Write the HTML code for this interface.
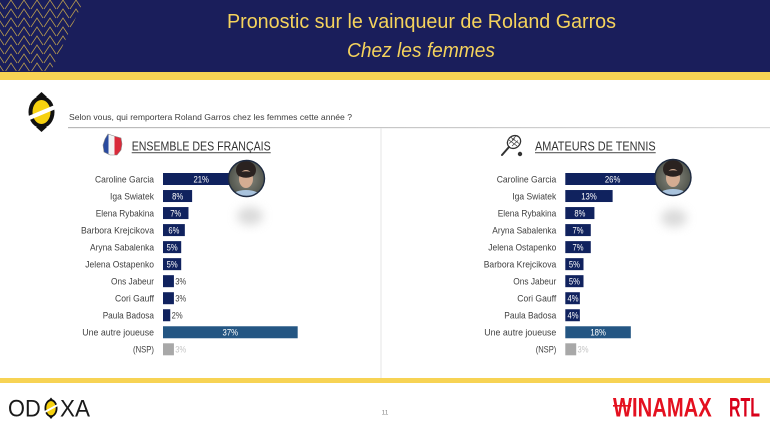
<!DOCTYPE html>
<html><head><meta charset="utf-8"><style>
html,body{margin:0;padding:0;background:#fff;}
svg{display:block;}
text{font-family:"Liberation Sans",sans-serif;}
</style></head><body>
<svg width="770" height="431" viewBox="0 0 770 431" xmlns="http://www.w3.org/2000/svg">
<defs>
<clipPath id="wedge"><polygon points="0,0 84,0 51,71 0,71"/></clipPath>
<clipPath id="c1"><circle cx="246.5" cy="178.5" r="18"/></clipPath>
<clipPath id="c2"><circle cx="673" cy="177.5" r="18"/></clipPath>
<filter id="blur" x="-50%" y="-50%" width="200%" height="200%"><feGaussianBlur stdDeviation="5"/></filter>
<radialGradient id="bg"><stop offset="0" stop-color="#8a8a80"/><stop offset="1" stop-color="#4e524a"/></radialGradient>
<linearGradient id="ln" x1="0" y1="0" x2="1" y2="0"><stop offset="0" stop-color="#b8b8b8"/><stop offset="1" stop-color="#d8d8d8"/></linearGradient>
</defs>

<!-- header -->
<rect x="0" y="0" width="770" height="72" fill="#1a1e5b"/>
<g clip-path="url(#wedge)" stroke="#c8a84e" stroke-width="0.8" fill="none" opacity="0.9">
<path d="M-8,9 L-2,0 L4,9 M-8,18 L-2,9 L4,18 M-8,27 L-2,18 L4,27 M-8,36 L-2,27 L4,36 M-8,45 L-2,36 L4,45 M-8,54 L-2,45 L4,54 M-8,63 L-2,54 L4,63 M-8,72 L-2,63 L4,72"/>
<path d="M5,9 L11,0 L17,9 M5,18 L11,9 L17,18 M5,27 L11,18 L17,27 M5,36 L11,27 L17,36 M5,45 L11,36 L17,45 M5,54 L11,45 L17,54 M5,63 L11,54 L17,63 M5,72 L11,63 L17,72"/>
<path d="M18,9 L24,0 L30,9 M18,18 L24,9 L30,18 M18,27 L24,18 L30,27 M18,36 L24,27 L30,36 M18,45 L24,36 L30,45 M18,54 L24,45 L30,54 M18,63 L24,54 L30,63 M18,72 L24,63 L30,72"/>
<path d="M31,9 L37,0 L43,9 M31,18 L37,9 L43,18 M31,27 L37,18 L43,27 M31,36 L37,27 L43,36 M31,45 L37,36 L43,45 M31,54 L37,45 L43,54 M31,63 L37,54 L43,63 M31,72 L37,63 L43,72"/>
<path d="M44,9 L50,0 L56,9 M44,18 L50,9 L56,18 M44,27 L50,18 L56,27 M44,36 L50,27 L56,36 M44,45 L50,36 L56,45 M44,54 L50,45 L56,54 M44,63 L50,54 L56,63 M44,72 L50,63 L56,72"/>
<path d="M57,9 L63,0 L69,9 M57,18 L63,9 L69,18 M57,27 L63,18 L69,27 M57,36 L63,27 L69,36 M57,45 L63,36 L69,45 M57,54 L63,45 L69,54"/>
<path d="M70,9 L76,0 L82,9 M70,18 L76,9 L82,18 M70,27 L76,18 L82,27"/>
</g>
<text x="227" y="28" font-size="20" fill="#f5d35c" textLength="389" lengthAdjust="spacingAndGlyphs">Pronostic sur le vainqueur de Roland Garros</text>
<text x="347" y="57" font-size="20" font-style="italic" fill="#f5d35c" textLength="148" lengthAdjust="spacingAndGlyphs">Chez les femmes</text>
<rect x="0" y="72" width="770" height="8" fill="#f7d354"/>

<!-- question logo -->
<g>
<polygon points="36,97 41.5,92 47,97" fill="#111"/>
<polygon points="36,127 41.5,132 47,127" fill="#111"/>
<ellipse cx="41.5" cy="112" rx="13" ry="16" fill="#111"/>
<ellipse cx="41.5" cy="112" rx="9" ry="12" fill="#f6d10f"/>
<polygon points="26,117 57,104 57,108.5 26,121.5" fill="#fff"/>
</g>
<text x="69" y="120" font-size="8.5" fill="#404040" textLength="283" lengthAdjust="spacingAndGlyphs">Selon vous, qui remportera Roland Garros chez les femmes cette année ?</text>
<rect x="68" y="127" width="702" height="1.2" fill="url(#ln)"/>
<rect x="380.5" y="128" width="1" height="250" fill="#e6e6e6"/>

<!-- Left heading: flag -->
<g>
<clipPath id="fr"><polygon points="108,134 114,136 121,138 122,144 121,150 117,155 110,155 104,152 103,145 105,139"/></clipPath>
<g clip-path="url(#fr)">
<rect x="100" y="132" width="8.5" height="26" fill="#2a4a9e"/>
<rect x="108.5" y="132" width="6" height="26" fill="#f4f4f4"/>
<rect x="114.5" y="132" width="10" height="26" fill="#d92a3a"/>
</g>
<polygon points="108,134 114,136 121,138 122,144 121,150 117,155 110,155 104,152 103,145 105,139" fill="none" stroke="#888" stroke-width="0.6"/>
</g>
<text x="131.7" y="150.7" font-size="12.5" fill="#333" textLength="139" lengthAdjust="spacingAndGlyphs">ENSEMBLE DES FRANÇAIS</text>
<rect x="131.7" y="152.3" width="139" height="0.9" fill="#333"/>

<!-- Right heading: racket -->
<g stroke="#333" fill="none">
<ellipse cx="514" cy="142" rx="7" ry="6" transform="rotate(-40 514 142)" stroke-width="1.3"/>
<path d="M509,140 L517,146 M511,137.5 L519,143.5 M512,140 L516,136 M509,143.5 L515,138.5 M512,146 L518,140.5" stroke-width="0.6"/>
<line x1="509" y1="147" x2="502" y2="155" stroke-width="2" stroke-linecap="round"/>
<circle cx="520" cy="154" r="2.2" fill="#333" stroke="none"/>
</g>
<text x="535" y="150.7" font-size="12.5" fill="#333" textLength="120.7" lengthAdjust="spacingAndGlyphs">AMATEURS DE TENNIS</text>
<rect x="535" y="152.3" width="120.7" height="0.9" fill="#333"/>

<!-- shadows -->
<ellipse cx="250" cy="216" rx="13" ry="9" fill="#d0d0d0" filter="url(#blur)" opacity="0.8"/>
<ellipse cx="674" cy="218" rx="13" ry="9" fill="#d0d0d0" filter="url(#blur)" opacity="0.8"/>

<!-- LEFT labels -->
<g font-size="9.5" fill="#404040" text-anchor="end">
<text x="154" y="182.4" textLength="59" lengthAdjust="spacingAndGlyphs">Caroline Garcia</text>
<text x="154" y="199.4" textLength="44" lengthAdjust="spacingAndGlyphs">Iga Swiatek</text>
<text x="154" y="216.4" textLength="58.3" lengthAdjust="spacingAndGlyphs">Elena Rybakina</text>
<text x="154" y="233.5" textLength="73" lengthAdjust="spacingAndGlyphs">Barbora Krejcikova</text>
<text x="154" y="250.5" textLength="64" lengthAdjust="spacingAndGlyphs">Aryna Sabalenka</text>
<text x="154" y="267.5" textLength="68.7" lengthAdjust="spacingAndGlyphs">Jelena Ostapenko</text>
<text x="154" y="284.6" textLength="43" lengthAdjust="spacingAndGlyphs">Ons Jabeur</text>
<text x="154" y="301.6" textLength="39" lengthAdjust="spacingAndGlyphs">Cori Gauff</text>
<text x="154" y="318.6" textLength="51.3" lengthAdjust="spacingAndGlyphs">Paula Badosa</text>
<text x="154" y="335.7" textLength="71.7" lengthAdjust="spacingAndGlyphs">Une autre joueuse</text>
<text x="154" y="352.7" textLength="21" lengthAdjust="spacingAndGlyphs">(NSP)</text>
</g>
<!-- LEFT bars -->
<g fill="#10225e">
<rect x="163" y="173" width="76.44" height="12"/>
<rect x="163" y="190.03" width="29.12" height="12"/>
<rect x="163" y="207.06" width="25.48" height="12"/>
<rect x="163" y="224.09" width="21.84" height="12"/>
<rect x="163" y="241.12" width="18.2" height="12"/>
<rect x="163" y="258.15" width="18.2" height="12"/>
<rect x="163" y="275.18" width="10.92" height="12"/>
<rect x="163" y="292.21" width="10.92" height="12"/>
<rect x="163" y="309.24" width="7.28" height="12"/>
</g>
<rect x="163" y="326.27" width="134.68" height="12" fill="#245683"/>
<rect x="163" y="343.3" width="10.92" height="12" fill="#a8a8a8"/>
<g font-size="9.5" fill="#fff" text-anchor="middle">
<text x="201.2" y="182.4" textLength="15.5" lengthAdjust="spacingAndGlyphs">21%</text>
<text x="177.6" y="199.4" textLength="11" lengthAdjust="spacingAndGlyphs">8%</text>
<text x="175.7" y="216.4" textLength="11" lengthAdjust="spacingAndGlyphs">7%</text>
<text x="173.9" y="233.5" textLength="11" lengthAdjust="spacingAndGlyphs">6%</text>
<text x="172.1" y="250.5" textLength="11" lengthAdjust="spacingAndGlyphs">5%</text>
<text x="172.1" y="267.5" textLength="11" lengthAdjust="spacingAndGlyphs">5%</text>
<text x="230.3" y="335.7" textLength="15.5" lengthAdjust="spacingAndGlyphs">37%</text>
</g>
<g font-size="9.5" fill="#404040">
<text x="175.2" y="284.6" textLength="11" lengthAdjust="spacingAndGlyphs">3%</text>
<text x="175.2" y="301.6" textLength="11" lengthAdjust="spacingAndGlyphs">3%</text>
<text x="171.6" y="318.6" textLength="11" lengthAdjust="spacingAndGlyphs">2%</text>
<text x="175.2" y="352.7" fill="#c4c4c4" textLength="11" lengthAdjust="spacingAndGlyphs">3%</text>
</g>

<!-- RIGHT labels -->
<g font-size="9.5" fill="#404040" text-anchor="end">
<text x="556.3" y="182.4" textLength="59.6" lengthAdjust="spacingAndGlyphs">Caroline Garcia</text>
<text x="556.3" y="199.4" textLength="44" lengthAdjust="spacingAndGlyphs">Iga Swiatek</text>
<text x="556.3" y="216.4" textLength="58.6" lengthAdjust="spacingAndGlyphs">Elena Rybakina</text>
<text x="556.3" y="233.5" textLength="64" lengthAdjust="spacingAndGlyphs">Aryna Sabalenka</text>
<text x="556.3" y="250.5" textLength="68" lengthAdjust="spacingAndGlyphs">Jelena Ostapenko</text>
<text x="556.3" y="267.5" textLength="72.6" lengthAdjust="spacingAndGlyphs">Barbora Krejcikova</text>
<text x="556.3" y="284.6" textLength="43" lengthAdjust="spacingAndGlyphs">Ons Jabeur</text>
<text x="556.3" y="301.6" textLength="39" lengthAdjust="spacingAndGlyphs">Cori Gauff</text>
<text x="556.3" y="318.6" textLength="52" lengthAdjust="spacingAndGlyphs">Paula Badosa</text>
<text x="556.3" y="335.7" textLength="72" lengthAdjust="spacingAndGlyphs">Une autre joueuse</text>
<text x="556.3" y="352.7" textLength="20.6" lengthAdjust="spacingAndGlyphs">(NSP)</text>
</g>
<!-- RIGHT bars -->
<g fill="#10225e">
<rect x="565.3" y="173" width="94.64" height="12"/>
<rect x="565.3" y="190.03" width="47.32" height="12"/>
<rect x="565.3" y="207.06" width="29.12" height="12"/>
<rect x="565.3" y="224.09" width="25.48" height="12"/>
<rect x="565.3" y="241.12" width="25.48" height="12"/>
<rect x="565.3" y="258.15" width="18.2" height="12"/>
<rect x="565.3" y="275.18" width="18.2" height="12"/>
<rect x="565.3" y="292.21" width="14.56" height="12"/>
<rect x="565.3" y="309.24" width="14.56" height="12"/>
</g>
<rect x="565.3" y="326.27" width="65.52" height="12" fill="#245683"/>
<rect x="565.3" y="343.3" width="10.92" height="12" fill="#a8a8a8"/>
<g font-size="9.5" fill="#fff" text-anchor="middle">
<text x="612.6" y="182.4" textLength="15.5" lengthAdjust="spacingAndGlyphs">26%</text>
<text x="589" y="199.4" textLength="15.5" lengthAdjust="spacingAndGlyphs">13%</text>
<text x="579.9" y="216.4" textLength="11" lengthAdjust="spacingAndGlyphs">8%</text>
<text x="578" y="233.5" textLength="11" lengthAdjust="spacingAndGlyphs">7%</text>
<text x="578" y="250.5" textLength="11" lengthAdjust="spacingAndGlyphs">7%</text>
<text x="574.4" y="267.5" textLength="11" lengthAdjust="spacingAndGlyphs">5%</text>
<text x="574.4" y="284.6" textLength="11" lengthAdjust="spacingAndGlyphs">5%</text>
<text x="573" y="301.6" textLength="11" lengthAdjust="spacingAndGlyphs">4%</text>
<text x="573" y="318.6" textLength="11" lengthAdjust="spacingAndGlyphs">4%</text>
<text x="598.1" y="335.7" textLength="15.5" lengthAdjust="spacingAndGlyphs">18%</text>
</g>
<text x="577.5" y="352.7" font-size="9.5" fill="#c4c4c4" textLength="11" lengthAdjust="spacingAndGlyphs">3%</text>

<!-- photos -->
<g clip-path="url(#c1)">
<rect x="228" y="160" width="38" height="38" fill="url(#bg)"/>
<ellipse cx="246" cy="170" rx="10" ry="9" fill="#2a2220"/>
<ellipse cx="246" cy="179" rx="7" ry="9" fill="#d4ac92"/>
<ellipse cx="246" cy="174.5" rx="7.5" ry="3.2" fill="#2a2220"/>
<ellipse cx="246" cy="198" rx="16" ry="8" fill="#a9c3dd"/>
</g>
<circle cx="246.5" cy="178.5" r="18" fill="none" stroke="#1e2a40" stroke-width="1.4"/>
<g clip-path="url(#c2)">
<rect x="654" y="159" width="38" height="38" fill="url(#bg)"/>
<ellipse cx="673" cy="169" rx="10" ry="9" fill="#2a2220"/>
<ellipse cx="673" cy="178" rx="7" ry="9" fill="#d4ac92"/>
<ellipse cx="673" cy="173.5" rx="7.5" ry="3.2" fill="#2a2220"/>
<ellipse cx="673" cy="197" rx="16" ry="8" fill="#a9c3dd"/>
</g>
<circle cx="673" cy="177.5" r="18" fill="none" stroke="#1e2a40" stroke-width="1.4"/>

<!-- footer -->
<rect x="0" y="378" width="770" height="5" fill="#f7d354"/>
<text x="8" y="416.7" font-size="24" fill="#1a1a1a" textLength="32.7" lengthAdjust="spacingAndGlyphs">OD</text>
<g>
<polygon points="48.5,400.5 51,397.5 53.5,400.5" fill="#111"/>
<polygon points="48.5,416 51,419 53.5,416" fill="#111"/>
<ellipse cx="51" cy="408.2" rx="5.6" ry="8" fill="#f6d10f" stroke="#111" stroke-width="1.8"/>
<polygon points="44.5,411 57.5,404 57.5,406.2 44.5,413.2" fill="#fff"/>
</g>
<text x="60" y="416.7" font-size="24" fill="#1a1a1a" textLength="30" lengthAdjust="spacingAndGlyphs">XA</text>
<text x="385" y="414.5" font-size="6.5" fill="#888" text-anchor="middle">11</text>
<text x="613" y="416.7" font-size="26.5" font-weight="bold" fill="#e4101f" textLength="98.7" lengthAdjust="spacingAndGlyphs">WINAMAX</text>
<rect x="613" y="405" width="18" height="1.6" fill="#e4101f"/>
<text x="729" y="416.7" font-size="26.5" font-weight="bold" fill="#d9001a" textLength="31" lengthAdjust="spacingAndGlyphs">RTL</text>
</svg>
</body></html>
